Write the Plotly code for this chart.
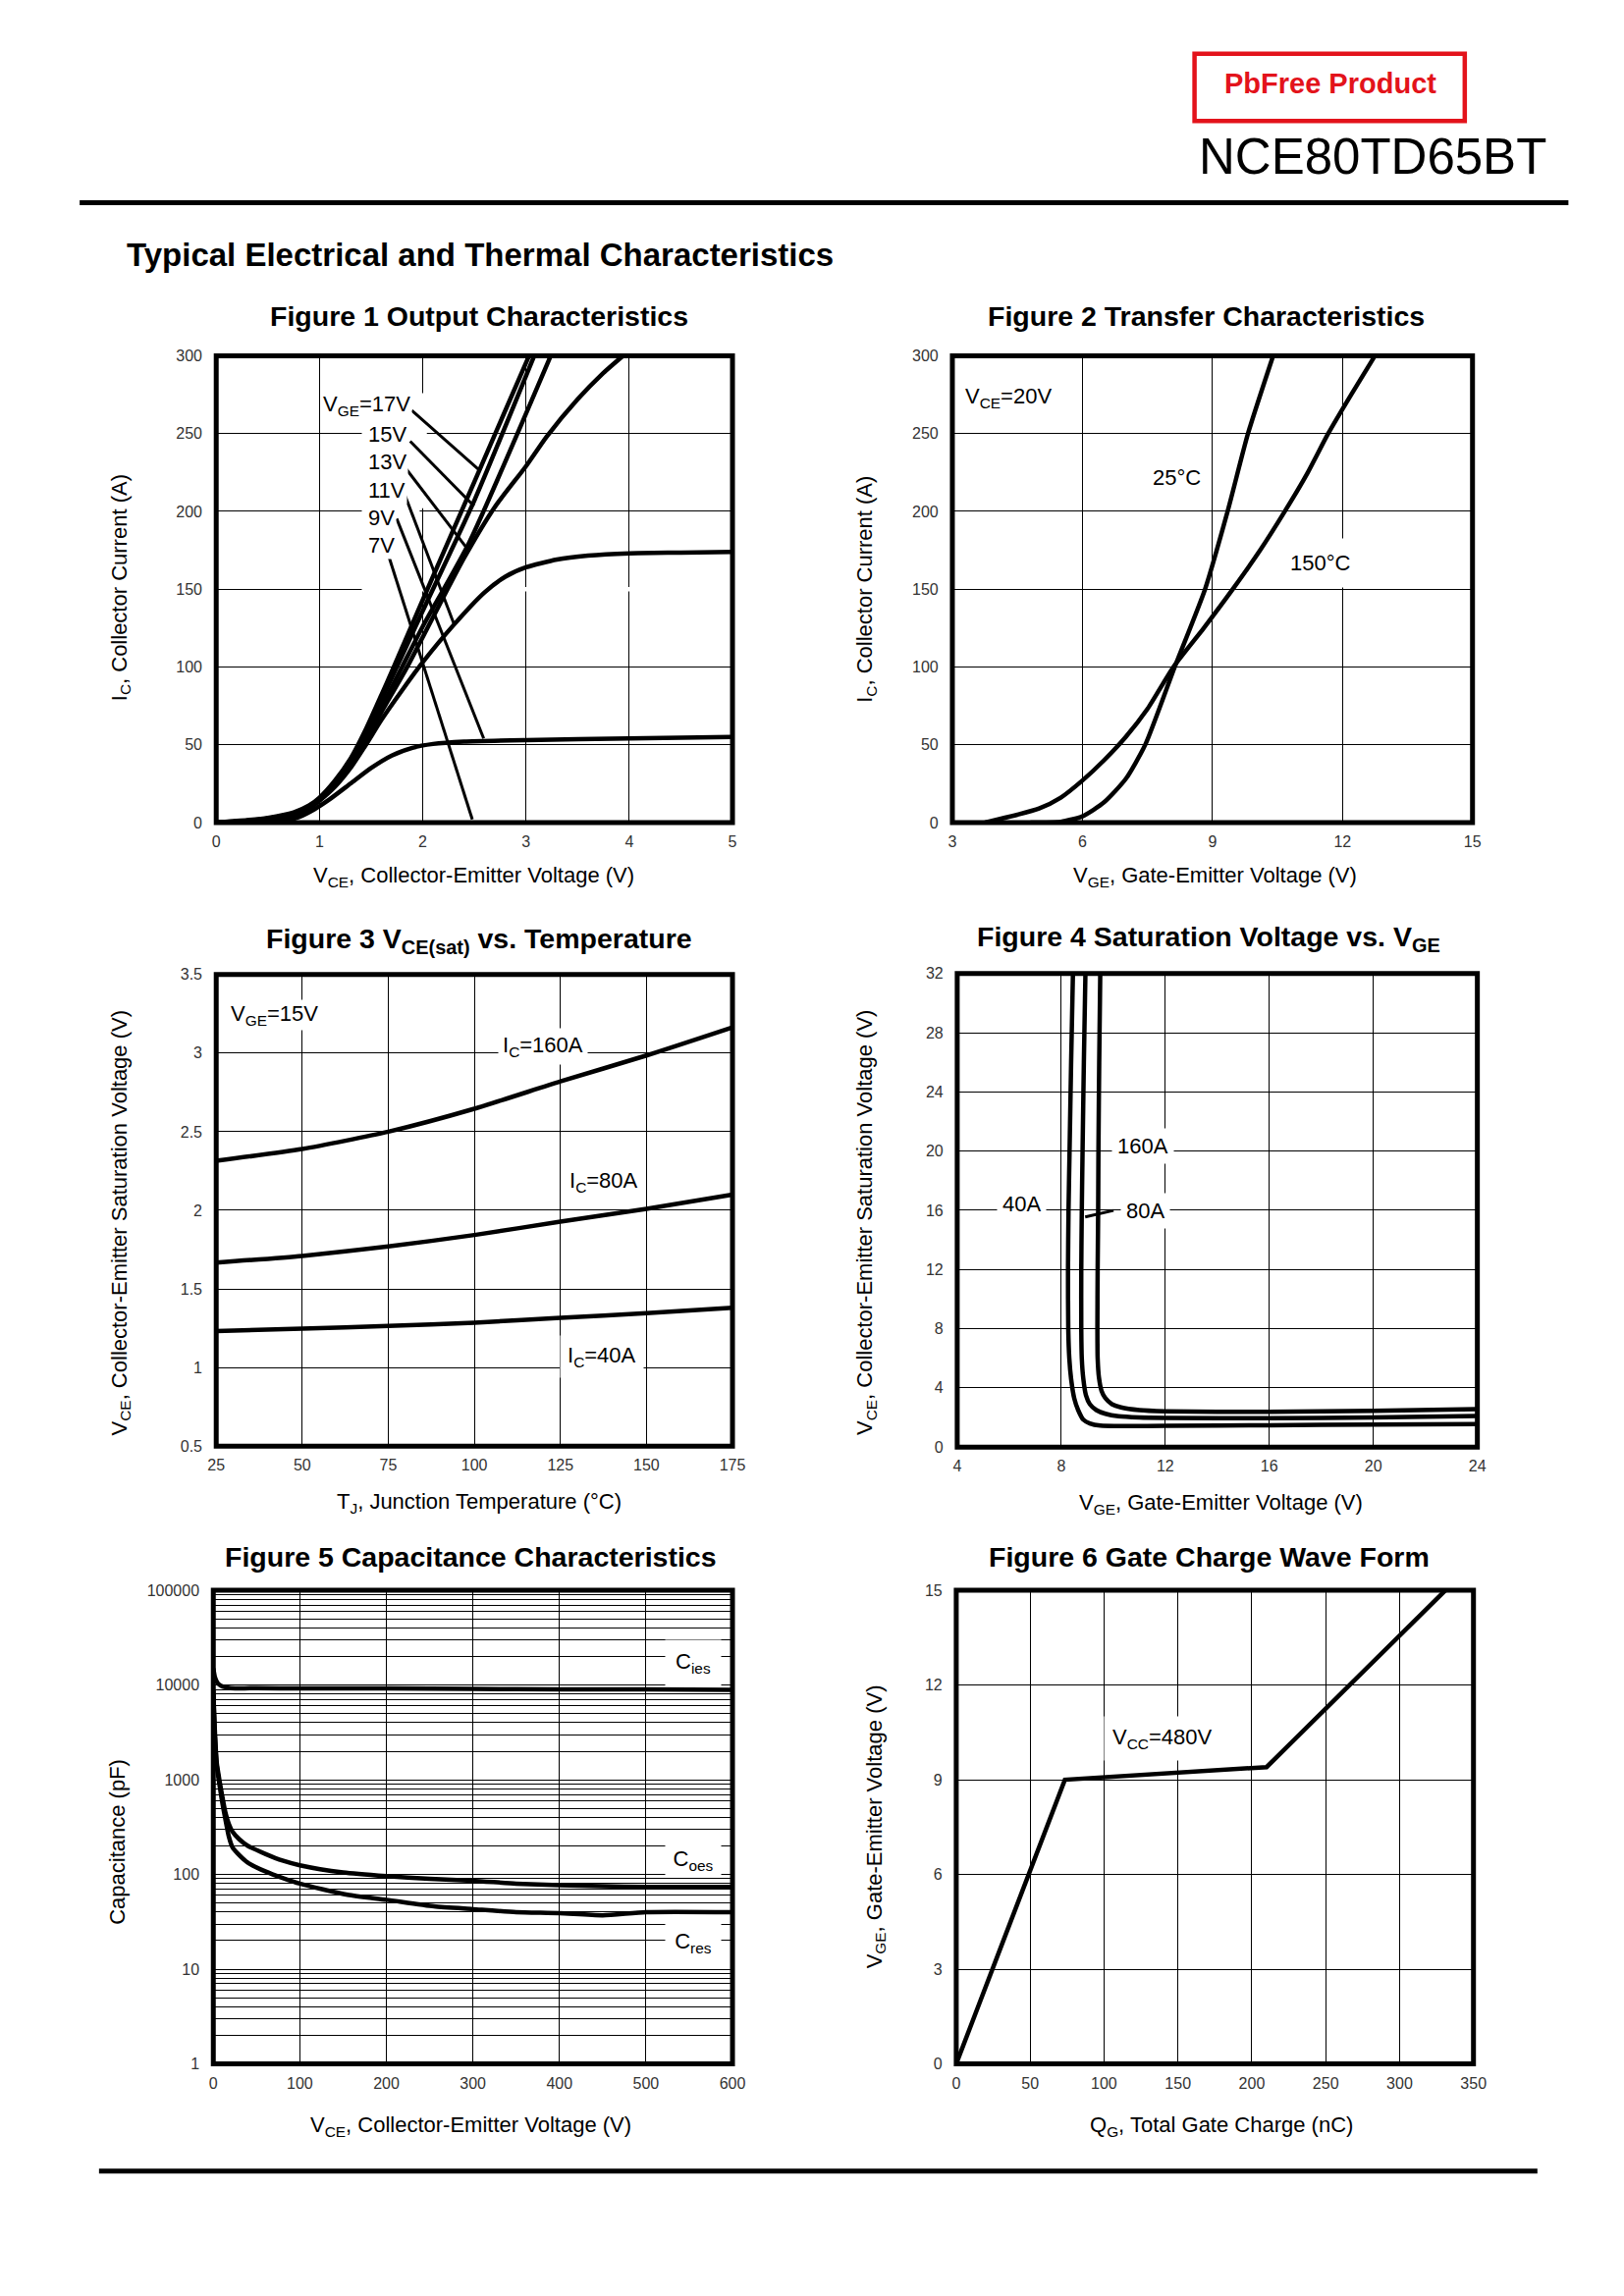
import math
import plotly.graph_objects as go

# Page geometry: the browser body keeps its default 8px margin; the figure is made a bit
# smaller than the window so that nothing overflows (no scrollbars, no rescaling).
OFF = 8
W, H = 1630, 2310
FONT = "Liberation Sans, Arial, sans-serif"

# ---------------- data ----------------
# Figure 1: output characteristics (VCE [V] -> IC [A])
f1_x17 = [0, 0.3, 0.5, 0.75, 0.9, 1.0, 1.15, 1.3, 1.45, 1.6, 1.7, 2.0, 2.5, 3.03]
f1_y17 = [0, 1.5, 3, 6.5, 11, 16, 27, 41, 60, 82, 97, 143, 219, 300]
f1_x15 = [0, 0.3, 0.5, 0.75, 0.9, 1.0, 1.15, 1.3, 1.45, 1.6, 1.75, 2.0, 2.5, 3.08]
f1_y15 = [0, 1.2, 2.6, 6, 10.5, 15.5, 26, 40, 58, 79, 100, 136, 207, 300]
f1_x13 = [0, 0.3, 0.5, 0.75, 0.9, 1.0, 1.15, 1.3, 1.45, 1.6, 1.8, 2.0, 2.45, 3.24]
f1_y13 = [0, 1, 2.2, 5.5, 10, 15, 25, 38, 55, 74, 100, 126, 180, 300]
f1_x11 = [0, 0.45, 0.6, 0.75, 0.9, 1.0, 1.15, 1.3, 1.45, 1.6, 1.85, 2.1, 2.4, 2.7, 3.0, 3.2, 3.5, 3.75, 3.94]
f1_y11 = [0, 0, 1, 4, 9.5, 14.5, 24, 37, 53, 71, 100, 132, 170, 203, 229, 248, 272, 289, 300]
f1_x9 = [0, 0.45, 0.6, 0.75, 0.9, 1.0, 1.15, 1.3, 1.45, 1.6, 1.8, 2.0, 2.3, 2.6, 2.8, 3.0, 3.3, 3.6, 4.0, 4.5, 5.0]
f1_y9 = [0, 0, 0.8, 3.5, 9, 14, 23, 35, 50, 66, 85, 103, 127, 148, 158, 164, 169, 171.5, 173, 173.5, 174]
f1_x7 = [0, 0.5, 0.65, 0.8, 0.95, 1.1, 1.3, 1.5, 1.7, 1.9, 2.1, 2.4, 3.0, 4.0, 5.0]
f1_y7 = [0, 0, 1, 3.5, 8.5, 15, 25, 35, 43, 48, 50.5, 52, 53, 54, 55]

# Figure 2: transfer characteristics (VGE [V] -> IC [A])
f2_x25 = [4.8, 5.5, 6.0, 6.5, 7.0, 7.45, 8.13, 8.83, 9.35, 9.82, 10.4]
f2_y25 = [0, 0.5, 4, 13, 28, 50, 100, 150, 200, 250, 300]
f2_x150 = [3.75, 4.5, 5.0, 5.5, 6.0, 6.5, 7.0, 7.5, 8.1, 8.8, 9.47, 10.1, 10.67, 11.2, 11.67, 12.2, 12.75]
f2_y150 = [0, 5, 9, 16, 27, 40, 55, 73, 100, 125, 150, 175, 200, 225, 250, 275, 300]

# Figure 3: VCE(sat) vs temperature
f3_t = [25, 50, 75, 100, 125, 150, 175]
f3_v160 = [2.315, 2.39, 2.50, 2.646, 2.82, 2.985, 3.164]
f3_v80 = [1.667, 1.71, 1.77, 1.843, 1.928, 2.009, 2.10]
f3_v40 = [1.232, 1.247, 1.265, 1.285, 1.316, 1.346, 1.38]

# Figure 4: saturation voltage vs VGE
f4_x40 = [8.45, 8.38, 8.32, 8.28, 8.26, 8.27, 8.31, 8.38, 8.5, 8.65, 8.85, 9.1, 9.5, 10.5, 12, 16, 20, 24]
f4_y40 = [32, 26, 20, 16, 12, 8, 6, 4.6, 3.3, 2.5, 1.85, 1.6, 1.45, 1.42, 1.44, 1.48, 1.52, 1.56]
f4_x80 = [8.93, 8.87, 8.82, 8.79, 8.77, 8.77, 8.79, 8.85, 8.95, 9.1, 9.35, 9.7, 10.2, 11, 12, 16, 20, 24]
f4_y80 = [32, 26, 20, 16, 12, 8, 6, 4.6, 3.5, 2.9, 2.5, 2.25, 2.08, 2.0, 1.97, 1.95, 2.0, 2.1]
f4_x160 = [9.5, 9.46, 9.43, 9.42, 9.4, 9.39, 9.4, 9.45, 9.55, 9.7, 9.95, 10.3, 11, 12, 14, 16, 20, 24]
f4_y160 = [32, 26, 20, 16, 12, 8, 6, 4.7, 3.8, 3.3, 2.9, 2.68, 2.5, 2.42, 2.38, 2.38, 2.45, 2.57]

# Figure 5: capacitance (VCE [V] -> pF)
f5_xies = [0, 2, 5, 10, 20, 50, 100, 200, 300, 400, 500, 600]
f5_cies = [15000, 12000, 10500, 9700, 9300, 9250, 9200, 9200, 9100, 9000, 9000, 8900]
f5_xoes = [0, 1, 2, 4, 7, 10, 14, 18, 22, 30, 40, 60, 80, 100, 150, 200, 250, 300, 350, 400, 450, 500, 550, 600]
f5_coes = [9000, 5000, 3000, 1500, 1000, 700, 450, 340, 285, 235, 200, 165, 140, 125, 105, 96, 90, 86, 80, 77, 75, 74, 74, 74]
f5_xres = [0, 1, 2, 4, 7, 10, 14, 18, 22, 30, 40, 60, 80, 100, 155, 200, 255, 300, 350, 400, 450, 500, 600]
f5_cres = [8000, 4500, 2700, 1400, 900, 600, 380, 250, 195, 160, 133, 108, 92, 80, 61, 54, 46, 43, 40, 39, 37, 40, 40]

# Figure 6: gate charge (QG [nC] -> VGE [V])
f6_q = [0, 73.5, 210, 331]
f6_v = [0, 9.0, 9.4, 15]

# tick values
t1x = [0, 1, 2, 3, 4, 5]; t1y = [0, 50, 100, 150, 200, 250, 300]
t2x = [3, 6, 9, 12, 15]; t2y = [0, 50, 100, 150, 200, 250, 300]
t3x = [25, 50, 75, 100, 125, 150, 175]; t3y = [0.5, 1, 1.5, 2, 2.5, 3, 3.5]
t3yl = ["0.5", "1", "1.5", "2", "2.5", "3", "3.5"]
t4x = [4, 8, 12, 16, 20, 24]; t4y = [0, 4, 8, 12, 16, 20, 24, 28, 32]
t5x = [0, 100, 200, 300, 400, 500, 600]; t5y = [1, 10, 100, 1000, 10000, 100000]
t5yl = ["1", "10", "100", "1000", "10000", "100000"]
t5minor = [m * 10 ** d for d in range(0, 5) for m in range(2, 10)]
t6x = [0, 50, 100, 150, 200, 250, 300, 350]; t6y = [0, 3, 6, 9, 12, 15]

# ---------------- layout geometry (page pixels) ----------------
BOX = {
    1: (214, 357, 747, 836),
    2: (974, 357, 1511, 836),
    3: (214, 992, 747, 1476),
    4: (979, 991, 1516, 1477),
    5: (211, 1624, 747, 2110),
    6: (978, 1624, 1512, 2110),
}
TITLES = {
    1: ("Figure 1 Output Characteristics", 485, 316),
    2: ("Figure 2 Transfer Characteristics", 1236, 316),
    3: ("Figure 3 V<sub>CE(sat)</sub> vs. Temperature", 485, 957),
    4: ("Figure 4 Saturation Voltage vs. V<sub>GE</sub>", 1239, 955),
    5: ("Figure 5 Capacitance Characteristics", 477, 1590),
    6: ("Figure 6 Gate Charge Wave Form", 1239, 1590),
}
XT = {
    1: ("V<sub>CE</sub>, Collector-Emitter Voltage (V)", 480, 891),
    2: ("V<sub>GE</sub>, Gate-Emitter Voltage (V)", 1245, 891),
    3: ("T<sub>J</sub>, Junction Temperature (°C)", 485, 1534),
    4: ("V<sub>GE</sub>, Gate-Emitter Voltage (V)", 1251, 1535),
    5: ("V<sub>CE</sub>, Collector-Emitter Voltage (V)", 477, 2174),
    6: ("Q<sub>G</sub>, Total Gate Charge (nC)", 1252, 2174),
}
YT = {
    1: ("I<sub>C</sub>, Collector Current (A)", 115, 595),
    2: ("I<sub>C</sub>, Collector Current (A)", 885, 597),
    3: ("V<sub>CE</sub>, Collector-Emitter Saturation Voltage (V)", 115, 1247),
    4: ("V<sub>CE</sub>, Collector-Emitter Saturation Voltage (V)", 885, 1247),
    5: ("Capacitance (pF)", 112, 1882),
    6: ("V<sub>GE</sub>, Gate-Emitter Voltage (V)", 895, 1867),
}


def px(x):
    return (x - OFF) / W


def py(y):
    return 1 - (y - OFF) / H


fig = go.Figure()
layout = dict(
    width=W, height=H, margin=dict(l=0, r=0, t=0, b=0),
    paper_bgcolor="white", plot_bgcolor="white", showlegend=False,
    font=dict(family=FONT, color="black"),
)
shapes = []
annotations = []

AXSPEC = {
    1: dict(xr=[0, 5], yr=[0, 300], xt=t1x, yt=t1y),
    2: dict(xr=[3, 15], yr=[0, 300], xt=t2x, yt=t2y),
    3: dict(xr=[25, 175], yr=[0.5, 3.5], xt=t3x, yt=t3y, ytl=t3yl),
    4: dict(xr=[4, 24], yr=[0, 32], xt=t4x, yt=t4y),
    5: dict(xr=[0, 600], yr=[0, 5], xt=t5x, yt=t5y, ytl=t5yl, log=True),
    6: dict(xr=[0, 350], yr=[0, 15], xt=t6x, yt=t6y),
}

TITLE_SZ = 28.5
AXT_SZ = 22
LAB = 22
tickfont = dict(family=FONT, size=16, color="#333333")
for i, spec in AXSPEC.items():
    l, t, r, b = BOX[i]
    sx = "" if i == 1 else str(i)
    xa = dict(domain=[px(l), px(r)], range=spec["xr"], tickmode="array", tickvals=spec["xt"],
              ticktext=[str(v) for v in spec["xt"]],
              showgrid=True, gridcolor="black", gridwidth=1, zeroline=False, showline=False,
              ticks="outside", ticklen=5, tickcolor="rgba(0,0,0,0)", tickfont=tickfont,
              anchor="y" + sx, fixedrange=True)
    ya = dict(domain=[py(b), py(t)], range=spec["yr"], tickmode="array", tickvals=spec["yt"],
              ticktext=spec.get("ytl", [str(v) for v in spec["yt"]]),
              showgrid=True, gridcolor="black", gridwidth=1, zeroline=False, showline=False,
              ticks="outside", ticklen=10, tickcolor="rgba(0,0,0,0)", tickfont=tickfont,
              anchor="x" + sx, fixedrange=True)
    if spec.get("log"):
        ya["type"] = "log"
        ya["minor"] = dict(tickmode="array", tickvals=t5minor, showgrid=True,
                           gridcolor="black", gridwidth=1, ticks="")
    layout["xaxis" + sx] = xa
    layout["yaxis" + sx] = ya
    # frame
    shapes.append(dict(type="rect", xref="x%s domain" % sx, yref="y%s domain" % sx,
                       x0=0, x1=1, y0=0, y1=1, line=dict(color="black", width=5), layer="above"))
    # titles
    txt, cx, cy = TITLES[i]
    annotations.append(dict(text="<b>%s</b>" % txt, x=px(cx), y=py(cy), xref="paper", yref="paper",
                            showarrow=False, font=dict(size=TITLE_SZ, family=FONT, color="black"),
                            xanchor="center", yanchor="middle"))
    txt, cx, cy = XT[i]
    annotations.append(dict(text=txt, x=px(cx), y=py(cy), xref="paper", yref="paper",
                            showarrow=False, font=dict(size=AXT_SZ, family=FONT, color="black"),
                            xanchor="center", yanchor="middle"))
    txt, cx, cy = YT[i]
    annotations.append(dict(text=txt, x=px(cx), y=py(cy), xref="paper", yref="paper",
                            showarrow=False, textangle=-90, font=dict(size=AXT_SZ, family=FONT, color="black"),
                            xanchor="center", yanchor="middle"))

LW = 4.5


def line(xs, ys, i, smooth=True):
    sx = "" if i == 1 else str(i)
    fig.add_trace(go.Scatter(x=xs, y=ys, mode="lines", xaxis="x" + sx, yaxis="y" + sx,
                             line=dict(color="black", width=LW,
                                       shape="spline" if smooth else "linear",
                                       smoothing=0.6 if smooth else None),
                             hoverinfo="skip"))


# Figure 1
for xs, ys in [(f1_x17, f1_y17), (f1_x15, f1_y15), (f1_x13, f1_y13),
               (f1_x11, f1_y11), (f1_x9, f1_y9), (f1_x7, f1_y7)]:
    line(xs, ys, 1)
# Figure 2
line(f2_x25, f2_y25, 2)
line(f2_x150, f2_y150, 2)
# Figure 3
for ys in [f3_v160, f3_v80, f3_v40]:
    line(f3_t, ys, 3)
# Figure 4
for xs, ys in [(f4_x40, f4_y40), (f4_x80, f4_y80), (f4_x160, f4_y160)]:
    line(xs, ys, 4)
# Figure 5
line(f5_xies, f5_cies, 5)
line(f5_xoes, f5_coes, 5)
line(f5_xres, f5_cres, 5)
# Figure 6
line(f6_q, f6_v, 6, smooth=False)


# ---- masks behind labels (white, between grid and traces) ----
def mask(sx, x0, x1, y0, y1):
    shapes.append(dict(type="rect", xref="x" + sx, yref="y" + sx, x0=x0, x1=x1, y0=y0, y1=y1,
                       fillcolor="white", line=dict(width=0), layer="between"))


mask("", 1.41, 2.04, 202, 276)
mask("", 1.41, 1.97, 166, 202)
mask("", 1.41, 5.0, 148.6, 151.4)

# ---- Figure 1 labels and leader lines ----
f1_labels = [("V<sub>GE</sub>=17V", 1.016, 268), ("15V", 1.455, 249.4), ("13V", 1.455, 231.8),
             ("11V", 1.455, 213.8), ("9V", 1.455, 196), ("7V", 1.455, 178)]
for txt, x, y in f1_labels:
    annotations.append(dict(text=txt, x=x, y=y, xref="x", yref="y", showarrow=False,
                            xanchor="left", yanchor="middle", bgcolor="white", borderpad=1,
                            font=dict(size=LAB, family=FONT, color="black")))
f1_leaders = [((1.894, 264.8), (2.545, 226.7)), ((1.878, 245.1), (2.496, 203.4)),
              ((1.829, 228.2), (2.447, 174.6)), ((1.829, 210.2), (2.30, 128)),
              ((1.748, 195.3), (2.59, 54)), ((1.667, 172), (2.48, 2))]
for (x0, y0), (x1, y1) in f1_leaders:
    shapes.append(dict(type="line", xref="x", yref="y", x0=x0, y0=y0, x1=x1, y1=y1,
                       line=dict(color="black", width=3), layer="above"))


def label(sx, txt, x, y, pad=3, **kw):
    d = dict(text=txt, x=x, y=y, xref="x" + sx, yref="y" + sx, showarrow=False,
             xanchor="center", yanchor="middle", bgcolor="white", borderpad=pad,
             font=dict(size=LAB, family=FONT, color="black"))
    d.update(kw)
    annotations.append(d)


# Figure 2
label("2", "V<sub>CE</sub>=20V", 4.3, 273, pad=1)
label("2", "25°C", 8.18, 222, pad=9)
label("2", "150°C", 11.5, 167, pad=12)
# Figure 3
label("3", "V<sub>GE</sub>=15V", 42, 3.245, pad=1)
label("3", "I<sub>C</sub>=160A", 120, 3.04, pad=4)
label("3", "I<sub>C</sub>=80A", 137.6, 2.18, pad=5)
label("3", "I<sub>C</sub>=40A", 137, 1.07, pad=7)
# Figure 4
label("4", "160A", 11.14, 20.37, pad=5)
label("4", "40A", 6.46, 16.45, pad=5)
label("4", "80A", 11.24, 15.99, pad=5)
shapes.append(dict(type="line", xref="x4", yref="y4", x0=10.01, y0=15.99, x1=8.92, y1=15.55,
                   line=dict(color="black", width=3), layer="above"))
# Figure 5 (log axis: annotation y in log10)
label("5", "C<sub>ies</sub>", 555, math.log10(17000), pad=0, width=56, height=46)
label("5", "C<sub>oes</sub>", 555, math.log10(140), pad=0, width=56, height=30)
label("5", "C<sub>res</sub>", 555, math.log10(19), pad=0, width=56, height=38)
# Figure 6
label("6", "V<sub>CC</sub>=480V", 139.5, 10.3, pad=8)

# ---------------- header ----------------
shapes.append(dict(type="rect", xref="paper", yref="paper", x0=px(1224), x1=px(1503),
                   y0=py(116), y1=py(47), line=dict(color="#e3131b", width=4.5), fillcolor="white"))
annotations.append(dict(text="<b>PbFree Product</b>", x=px(1364), y=py(78), xref="paper", yref="paper",
                        showarrow=False, font=dict(size=29, family=FONT, color="#e3131b"),
                        xanchor="center", yanchor="middle"))
annotations.append(dict(text="NCE80TD65BT", x=px(1408), y=py(153), xref="paper", yref="paper",
                        showarrow=False, font=dict(size=51, family=FONT, color="black"),
                        xanchor="center", yanchor="middle"))
shapes.append(dict(type="line", xref="paper", yref="paper", x0=px(73), x1=px(1610), y0=py(200), y1=py(200),
                   line=dict(color="black", width=5)))
annotations.append(dict(text="<b>Typical Electrical and Thermal Characteristics</b>", x=px(119), y=py(253),
                        xref="paper", yref="paper", showarrow=False,
                        font=dict(size=33, family=FONT, color="black"), xanchor="left", yanchor="middle"))
shapes.append(dict(type="line", xref="paper", yref="paper", x0=px(93), x1=px(1578), y0=py(2220), y1=py(2220),
                   line=dict(color="black", width=5)))

layout["shapes"] = shapes
layout["annotations"] = annotations
fig.update_layout(**layout)
fig.write_html("out.html", config={"displayModeBar": False, "staticPlot": True})
